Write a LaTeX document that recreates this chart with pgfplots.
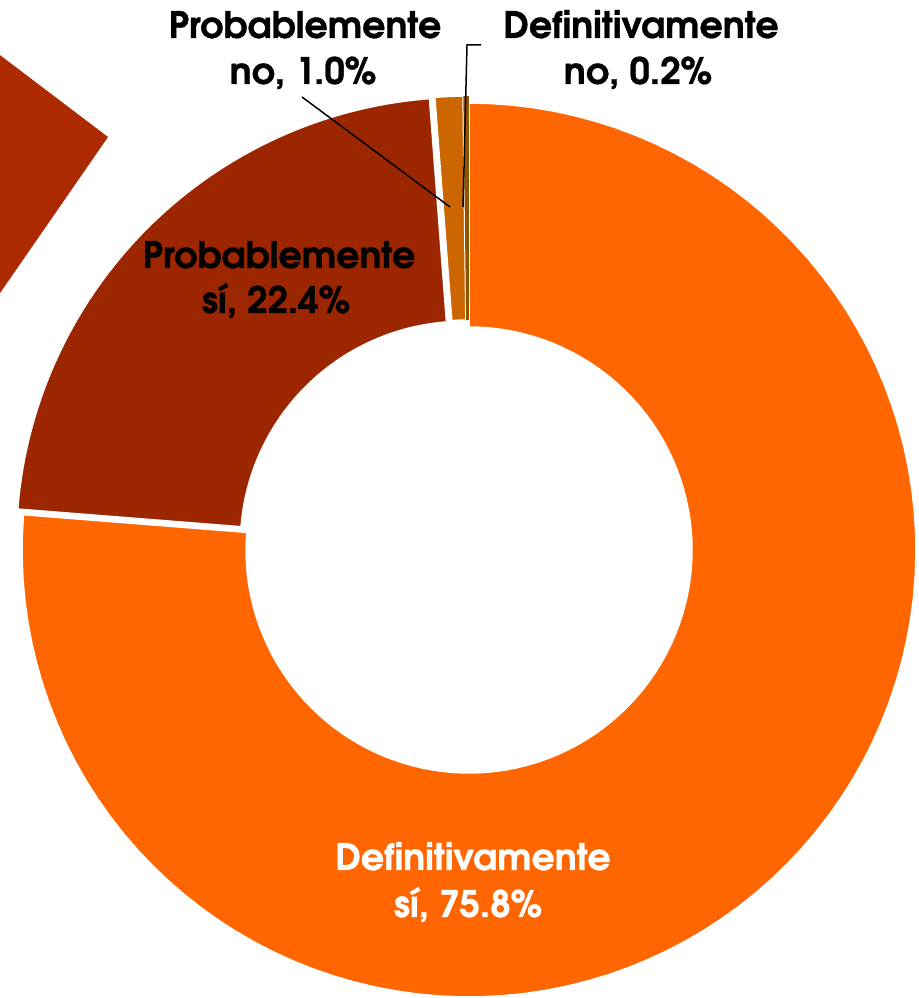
\documentclass[border=0pt]{standalone}
\usepackage{pgfplots}
\pgfplotsset{compat=1.18}
\usepackage{pgfplotstable}
\usepackage{fontspec}
\setmainfont{TeX Gyre Adventor}[BoldFeatures={FakeBold=0.8}]
\definecolor{cDefSi}{HTML}{FF6600}
\definecolor{cProbSi}{HTML}{9B2600}
\definecolor{cProbNo}{HTML}{CC6600}
\definecolor{cDefNo}{HTML}{8F5400}
\definecolor{cFrag}{HTML}{AD2A00}

\pgfplotstableread{
label value
DefSi 75.8
ProbSi 22.4
ProbNo 1.0
DefNo 0.2
}\donutdata

\begin{document}
\begin{tikzpicture}
\pgfplotstablegetelem{0}{value}\of\donutdata \let\vA\pgfplotsretval
\pgfplotstablegetelem{1}{value}\of\donutdata \let\vB\pgfplotsretval
\pgfplotstablegetelem{2}{value}\of\donutdata \let\vC\pgfplotsretval
\pgfplotstablegetelem{3}{value}\of\donutdata \let\vD\pgfplotsretval
\pgfmathsetmacro\tot{\vA+\vB+\vC+\vD}
\pgfmathsetmacro\aA{90}
\pgfmathsetmacro\aB{\aA-360*(\vA/\tot)}
\pgfmathsetmacro\aC{\aB-360*(\vB/\tot)}
\pgfmathsetmacro\aD{\aC-360*(\vC/\tot)}
\pgfmathsetmacro\aE{\aD-360*(\vD/\tot)}
% centres (Definitivamente si not exploded, the others pulled out)
\def\cx{469}\def\cy{448}
\pgfmathsetmacro\cxB{\cx+8*cos((\aB+\aC)/2)}
\pgfmathsetmacro\cyB{\cy+8*sin((\aB+\aC)/2)}
\pgfmathsetmacro\cxC{\cx+7*cos((\aC+\aD)/2)}
\pgfmathsetmacro\cyC{\cy+7*sin((\aC+\aD)/2)}
\pgfmathsetmacro\cxD{\cx+7*cos((\aD+\aE)/2)}
\pgfmathsetmacro\cyD{\cy+7*sin((\aD+\aE)/2)}
\begin{axis}[
  width=918pt, height=998pt, scale only axis,
  xmin=0, xmax=918, ymin=0, ymax=998,
  hide axis, clip=true,
  declare function={
    wrad(\s)=(\s<1)?447:((\s<2)?(447-224*(\s-1)):((\s<3)?223:(223+224*(\s-3))));
    wang(\s,\pa,\pb)=(\s<1)?(\pa+(\pb-\pa)*\s):((\s<2)?\pb:((\s<3)?(\pb-(\pb-\pa)*(\s-2)):\pa));
  },
]
% decorative fragment at the left edge
\addplot[fill=cFrag, draw=none] coordinates {(-20,958) (108,861) (-20,676)} -- cycle;
% donut wedges
\addplot[fill=cDefSi, draw=white, line width=1.5pt, domain=0:4, samples=401, variable=\t]
  ({\cx+wrad(\t)*cos(wang(\t,\aA,\aB))},{\cy+wrad(\t)*sin(wang(\t,\aA,\aB))});
\addplot[fill=cProbSi, draw=white, line width=1.5pt, domain=0:4, samples=401, variable=\t]
  ({\cxB+wrad(\t)*cos(wang(\t,\aB,\aC))},{\cyB+wrad(\t)*sin(wang(\t,\aB,\aC))});
\addplot[fill=cProbNo, draw=white, line width=1.5pt, domain=0:4, samples=401, variable=\t]
  ({\cxC+wrad(\t)*cos(wang(\t,\aC,\aD))},{\cyC+wrad(\t)*sin(wang(\t,\aC,\aD))});
\addplot[fill=cDefNo, draw=none, domain=0:4, samples=401, variable=\t]
  ({\cxD+wrad(\t)*cos(wang(\t,\aD,\aE))},{\cyD+wrad(\t)*sin(wang(\t,\aD,\aE))});
% leader lines
\addplot[black, line width=1.5pt] coordinates {(302,901) (450,791)};
\addplot[black, line width=1.5pt] coordinates {(463,791) (467,953) (481,953)};
% labels
\begin{scope}[every node/.style={anchor=base, inner sep=0pt, font=\fontsize{36.5}{44}\selectfont\bfseries}]
\node at (axis cs:305,960) {Probablemente};
\node at (axis cs:303,914) {no, 1.0\%};
\node at (axis cs:641,960) {Definitivamente};
\node at (axis cs:638,914) {no, 0.2\%};
\node at (axis cs:279,730) {Probablemente};
\node at (axis cs:276,685) {sí, 22.4\%};
\node[text=white] at (axis cs:473,128) {Definitivamente};
\node[text=white] at (axis cs:468,81) {sí, 75.8\%};
\end{scope}
\end{axis}
\pgfresetboundingbox
\path (current axis.south west) rectangle (current axis.north east);
\end{tikzpicture}
\end{document}
